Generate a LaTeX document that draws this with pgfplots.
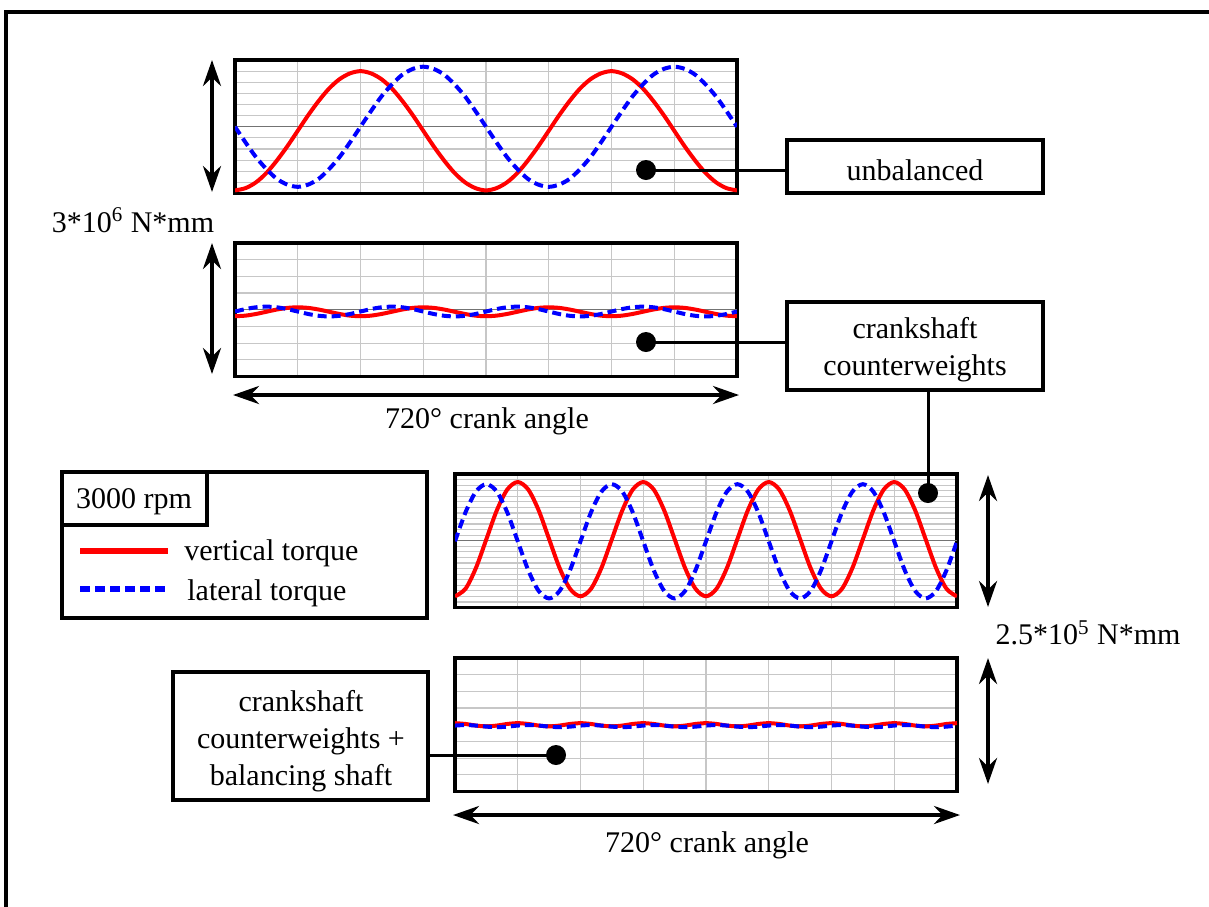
\documentclass[border=0pt]{standalone}
\usepackage{fontspec}
\setmainfont{Liberation Serif}
\usepackage{pgfplots}
\pgfplotsset{compat=1.18}
\usepackage{pgfplotstable}
\usetikzlibrary{arrows.meta}

\pgfplotstableread{
th r1 b1 r2 b2 r3 b3 r4 b4
0 -1.43 0 -0.145 -0.04 -1.04 -0.01 0.03 -0.015
15 -1.38 -0.35 -0.132 0.015 -0.90 0.53 0.015 -0.005
30 -1.25 -0.68 -0.095 0.055 -0.51 0.92 -0.015 -0.015
45 -1.04 -0.95 -0.045 0.07 0.03 1.06 -0.03 -0.035
60 -0.76 -1.17 0.005 0.055 0.57 0.92 -0.015 -0.045
75 -0.44 -1.30 0.042 0.015 0.96 0.53 0.015 -0.035
90 -0.09 -1.35 0.055 -0.04 1.10 -0.01 0.03 -0.015
105 0.26 -1.30 0.042 -0.095 0.96 -0.55 0.015 -0.005
120 0.58 -1.17 0.005 -0.135 0.57 -0.94 -0.015 -0.015
135 0.86 -0.95 -0.045 -0.15 0.03 -1.08 -0.03 -0.035
150 1.07 -0.68 -0.095 -0.135 -0.51 -0.94 -0.015 -0.045
165 1.20 -0.35 -0.132 -0.095 -0.90 -0.55 0.015 -0.035
180 1.25 0 -0.145 -0.04 -1.04 -0.01 0.03 -0.015
195 1.20 0.35 -0.132 0.015 -0.90 0.53 0.015 -0.005
210 1.07 0.68 -0.095 0.055 -0.51 0.92 -0.015 -0.015
225 0.86 0.95 -0.045 0.07 0.03 1.06 -0.03 -0.035
240 0.58 1.17 0.005 0.055 0.57 0.92 -0.015 -0.045
255 0.26 1.30 0.042 0.015 0.96 0.53 0.015 -0.035
270 -0.09 1.35 0.055 -0.04 1.10 -0.01 0.03 -0.015
285 -0.44 1.30 0.042 -0.095 0.96 -0.55 0.015 -0.005
300 -0.76 1.17 0.005 -0.135 0.57 -0.94 -0.015 -0.015
315 -1.04 0.95 -0.045 -0.15 0.03 -1.08 -0.03 -0.035
330 -1.25 0.68 -0.095 -0.135 -0.51 -0.94 -0.015 -0.045
345 -1.38 0.35 -0.132 -0.095 -0.90 -0.55 0.015 -0.035
360 -1.43 0 -0.145 -0.04 -1.04 -0.01 0.03 -0.015
375 -1.38 -0.35 -0.132 0.015 -0.90 0.53 0.015 -0.005
390 -1.25 -0.68 -0.095 0.055 -0.51 0.92 -0.015 -0.015
405 -1.04 -0.95 -0.045 0.07 0.03 1.06 -0.03 -0.035
420 -0.76 -1.17 0.005 0.055 0.57 0.92 -0.015 -0.045
435 -0.44 -1.30 0.042 0.015 0.96 0.53 0.015 -0.035
450 -0.09 -1.35 0.055 -0.04 1.10 -0.01 0.03 -0.015
465 0.26 -1.30 0.042 -0.095 0.96 -0.55 0.015 -0.005
480 0.58 -1.17 0.005 -0.135 0.57 -0.94 -0.015 -0.015
495 0.86 -0.95 -0.045 -0.15 0.03 -1.08 -0.03 -0.035
510 1.07 -0.68 -0.095 -0.135 -0.51 -0.94 -0.015 -0.045
525 1.20 -0.35 -0.132 -0.095 -0.90 -0.55 0.015 -0.035
540 1.25 0 -0.145 -0.04 -1.04 -0.01 0.03 -0.015
555 1.20 0.35 -0.132 0.015 -0.90 0.53 0.015 -0.005
570 1.07 0.68 -0.095 0.055 -0.51 0.92 -0.015 -0.015
585 0.86 0.95 -0.045 0.07 0.03 1.06 -0.03 -0.035
600 0.58 1.17 0.005 0.055 0.57 0.92 -0.015 -0.045
615 0.26 1.30 0.042 0.015 0.96 0.53 0.015 -0.035
630 -0.09 1.35 0.055 -0.04 1.10 -0.01 0.03 -0.015
645 -0.44 1.30 0.042 -0.095 0.96 -0.55 0.015 -0.005
660 -0.76 1.17 0.005 -0.135 0.57 -0.94 -0.015 -0.015
675 -1.04 0.95 -0.045 -0.15 0.03 -1.08 -0.03 -0.035
690 -1.25 0.68 -0.095 -0.135 -0.51 -0.94 -0.015 -0.045
705 -1.38 0.35 -0.132 -0.095 -0.90 -0.55 0.015 -0.035
720 -1.43 0 -0.145 -0.04 -1.04 -0.01 0.03 -0.015
}\data

\pgfplotsset{
  panel/.style={
    scale only axis, width=251pt, height=66.75pt, anchor=north west,
    xmin=0, xmax=720, xtick={0,90,...,720},
    xticklabels={}, yticklabels={},
    tick style={draw=none},
    grid=major, major grid style={draw=black!22, line width=0.6pt},
    axis line style={line width=1.75pt},
  },
  zline/.style={draw=black!55, line width=0.7pt, no markers, forget plot},
  rcurve/.style={draw=red, line width=2pt, smooth, no markers},
  bcurve/.style={draw=blue, line width=2pt, smooth, no markers, dash pattern=on 4.5pt off 2.5pt},
}

\begin{document}
\begin{tikzpicture}[x=0.5pt,y=-0.5pt, every node/.style={font=\fontsize{15}{18.5}\selectfont}]
\path[use as bounding box] (0,0) rectangle (1209,906);
\draw[line width=2pt] (1215,12) -- (6,12) -- (6,915);
\coordinate (pA) at (235,60);
\coordinate (pB) at (235,243);
\coordinate (pC) at (455,474);
\coordinate (pD) at (455,658);

\begin{axis}[panel, at={(pA)}, ymin=-1.5, ymax=1.5, ytick={-1.5,-1.25,...,1.5}]
\addplot[zline] coordinates {(0,0) (720,0)};
\addplot[rcurve] table[x=th,y=r1]{\data};
\addplot[bcurve] table[x=th,y=b1]{\data};
\end{axis}

\begin{axis}[panel, at={(pB)}, ymin=-1.5, ymax=1.5, ytick={-1.5,-1.125,...,1.5}]
\addplot[zline] coordinates {(0,0) (720,0)};
\addplot[rcurve] table[x=th,y=r2]{\data};
\addplot[bcurve] table[x=th,y=b2]{\data};
\end{axis}

\begin{axis}[panel, at={(pC)}, ymin=-1.25, ymax=1.25, ytick={-1.25,-1.1458333,...,1.26}]
\addplot[zline] coordinates {(0,0) (720,0)};
\addplot[rcurve] table[x=th,y=r3]{\data};
\addplot[bcurve] table[x=th,y=b3]{\data};
\end{axis}

\begin{axis}[panel, at={(pD)}, ymin=-1.25, ymax=1.25, ytick={-1.25,-0.9375,...,1.26}]
\addplot[zline] coordinates {(0,0) (720,0)};
\addplot[rcurve] table[x=th,y=r4]{\data};
\addplot[bcurve] table[x=th,y=b4]{\data};
\end{axis}

% arrows
\tikzset{dbl/.style={line width=2pt, {Stealth[length=13pt,width=9pt]}-{Stealth[length=13pt,width=9pt]}}}
\draw[dbl] (212,60) -- (212,192);
\draw[dbl] (212,243) -- (212,374);
\draw[dbl] (233,395) -- (739,395);
\draw[dbl] (988,475) -- (988,607);
\draw[dbl] (988,658) -- (988,784);
\draw[dbl] (453,815) -- (960,815);

\node at (133,220) {3*10\textsuperscript{6} N*mm};
\node at (487,421) {720° crank angle};
\node at (1088,633) {2.5*10\textsuperscript{5} N*mm};
\node at (707,845) {720° crank angle};

% boxes
\tikzset{bx/.style={line width=1.75pt}}
\draw[bx] (787,140) rectangle (1043,193);
\node at (915,170) {unbalanced};
\draw[bx] (787,302) rectangle (1043,390);
\node[align=center] at (915,350) {crankshaft\\counterweights};
\draw[bx] (173,672) rectangle (428,800);
\node[align=center] at (301,741) {crankshaft\\counterweights +\\balancing shaft};

% legend
\draw[bx] (62,472) rectangle (427,618);
\draw[bx] (62,472) rectangle (207,525);
\node at (134,502) {3000 rpm};
\draw[red, line width=2.75pt] (80,551) -- (168,551);
\draw[blue, line width=2.75pt, dash pattern=on 5pt off 2.5pt] (80,589) -- (168,589);
\node[anchor=west, inner sep=0pt] at (184,553) {vertical torque};
\node[anchor=west, inner sep=0pt] at (187,593) {lateral torque};

% connectors
\draw[line width=1.5pt] (646,170) -- (787,170);
\fill (646,170) circle[radius=5pt];
\draw[line width=1.5pt] (646,342) -- (787,342);
\fill (646,342) circle[radius=5pt];
\draw[line width=1.5pt] (928,390) -- (928,493);
\fill (928,493) circle[radius=5pt];
\draw[line width=1.5pt] (428,755) -- (556,755);
\fill (556,755) circle[radius=5pt];
\end{tikzpicture}
\end{document}
